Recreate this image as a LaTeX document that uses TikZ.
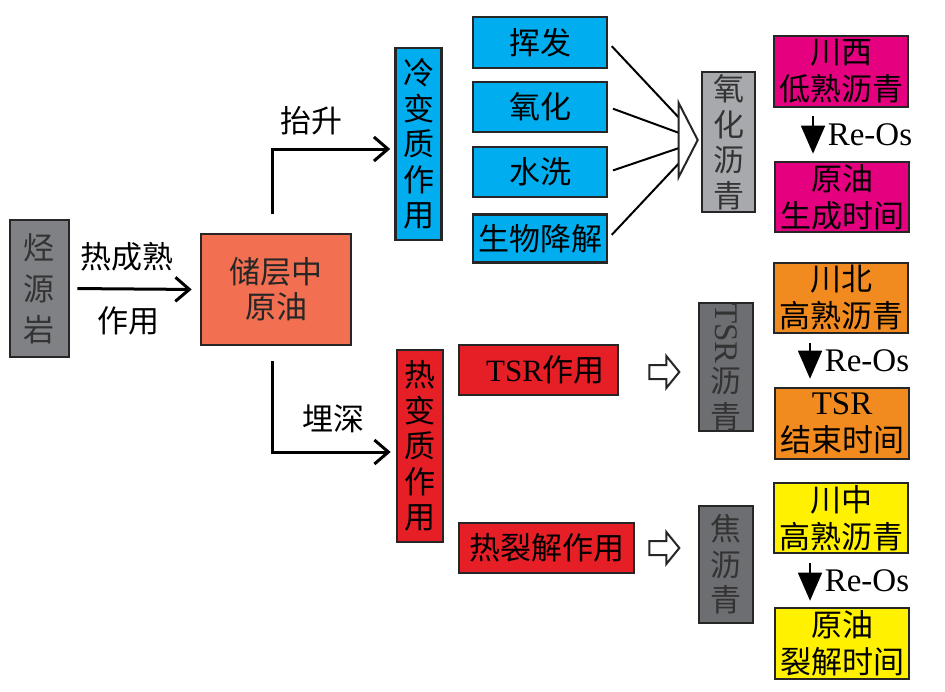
\documentclass[tikz,border=0pt]{standalone}
\usepackage{fontspec}
\setmainfont{Liberation Serif}
\newfontfamily\cjk{Noto Sans CJK SC}
\usetikzlibrary{arrows.meta}
\definecolor{srcgray}{HTML}{808184}
\definecolor{lightgray}{HTML}{A7A9AC}
\definecolor{darkgray}{HTML}{6D6E71}
\definecolor{salmon}{HTML}{F26F52}
\definecolor{cyanbox}{HTML}{00AEEF}
\definecolor{redbox}{HTML}{E61E26}
\definecolor{magbox}{HTML}{E4007F}
\definecolor{orgbox}{HTML}{F18A1F}
\definecolor{yelbox}{HTML}{FFF100}
\tikzset{
 box/.style={draw=black!85,line width=1.3pt,inner sep=0pt,align=center,
  font=\cjk\fontsize{15.5}{18.5}\selectfont},
 vbox/.style={box,font=\cjk\fontsize{15.5}{17.75}\selectfont},
 lbl/.style={font=\cjk\fontsize{15.5}{18}\selectfont,inner sep=0pt},
 relbl/.style={right=7pt,midway,font=\rmfamily\fontsize{16.5}{18}\selectfont,inner sep=0pt},
 arr/.style={line width=1.5pt,-{Straight Barb[length=7pt,width=12pt,line width=1.5pt]}},
 dwn/.style={line width=0.8pt,-{Triangle[length=14pt,width=12pt]}},
 hollow/.style={draw=black!85,line width=1pt,fill=white,line join=miter}
}
\begin{document}
\begin{tikzpicture}[x=0.5pt,y=-0.5pt]
\useasboundingbox (0,0) rectangle (945,691);
% left part
\node[vbox,fill=srcgray,text=black!80,font=\cjk\fontsize{15.5}{20.5}\selectfont,minimum width=29.5pt,minimum height=68.5pt] (src) at (39.5,288.5) {烃\\源\\岩};
\node[box,fill=salmon,text=black!85,font=\cjk\fontsize{15.5}{17.5}\selectfont,minimum width=75pt,minimum height=55.5pt] (oil) at (276,289.5) {储层中\\原油};
\node[vbox,fill=cyanbox,minimum width=23pt,minimum height=96pt] (cold) at (418.5,144) {冷\\变\\质\\作\\用};
\node[vbox,fill=redbox,minimum width=23pt,minimum height=96pt] (hot) at (420,446) {热\\变\\质\\作\\用};
\draw[arr,shorten <=3.5pt,shorten >=4pt] (src.east) -- (oil.west)
 node[lbl,above=8pt,pos=0.44] (mat) {热成熟} node[lbl,below=8pt,pos=0.45] (mat2) {作用};
\draw[arr,shorten <=9.5pt,shorten >=2pt] ([xshift=-2pt]oil.north) |- ([yshift=-2.5pt]cold.west)
 node[lbl,above=6pt,pos=0.66] (up) {抬升};
\draw[arr,shorten <=7.5pt,shorten >=2.5pt] ([xshift=-2pt]oil.south) |- ([yshift=-3pt]hot.west)
 node[lbl,above=9pt,pos=0.75] (down) {埋深};
% cold branch
\node[box,fill=cyanbox,minimum width=67pt,minimum height=25.5pt] (vol) at (540,42.5) {挥发};
\node[box,fill=cyanbox,minimum width=67pt,minimum height=25pt] (oxi) at (540,107) {氧化};
\node[box,fill=cyanbox,minimum width=67pt,minimum height=25pt] (wash) at (540,172) {水洗};
\node[box,fill=cyanbox,minimum width=67pt,minimum height=24pt] (bio) at (540,238.5) {生物降解};
\node[vbox,fill=lightgray,text=black!80,minimum width=26.5pt,minimum height=70pt] (oxbit) at (728.5,142) {氧\\化\\沥\\青};
\foreach \n/\y in {vol/121,oxi/134,wash/147,bio/160}
 \coordinate (j\n) at (682,\y);
\foreach \n in {vol,oxi,wash,bio}
 \draw[line width=1pt,shorten <=2.5pt] (\n.east) -- (j\n);
\draw[hollow] ([xshift=-1.5pt,yshift=1pt]oxbit.west) -- ++(-19,-37) -- ++(0,74) -- cycle;
\node[box,fill=magbox,minimum width=67pt,minimum height=35.5pt] (cx) at (841,71.5) {川西\\低熟沥青};
\node[box,fill=magbox,minimum width=67pt,minimum height=35pt] (cxt) at (842,197) {原油\\生成时间};
\draw[dwn,shorten <=4pt,shorten >=3.5pt] ([xshift=-14pt]cx.south) -- ([xshift=-14.5pt]cxt.north)
 node[relbl] (re1) {Re-Os};
% hot branch
\node[box,fill=redbox,minimum width=79.5pt,minimum height=25pt] (tsr) at (538.5,370) {\hspace{7pt}{\rmfamily TSR}作用};
\node[box,fill=redbox,minimum width=87.5pt,minimum height=25pt] (crack) at (546.5,548) {热裂解作用};
\node[vbox,fill=darkgray,text=black!80,minimum width=27pt,minimum height=64pt] (tsrbit) at (726,367) {\rotatebox{-90}{\rmfamily\fontsize{16.5}{18}\selectfont TSR}\\[1pt]沥\\青};
\node[vbox,fill=darkgray,text=black!80,minimum width=27pt,minimum height=58.5pt] (coke) at (726,564.5) {焦\\沥\\青};
\draw[hollow] ([xshift=15pt,yshift=-1pt]tsr.east) ++(0,-7) -- ++(17,0) -- ++(0,-9) -- ++(13,16)
 -- ++(-13,16) -- ++(0,-9) -- ++(-17,0) -- cycle;
\draw[hollow] ([xshift=7pt]crack.east) ++(0,-7) -- ++(17,0) -- ++(0,-9) -- ++(13,16)
 -- ++(-13,16) -- ++(0,-9) -- ++(-17,0) -- cycle;
\node[box,fill=orgbox,minimum width=67pt,minimum height=35pt] (cb) at (841,298) {川北\\高熟沥青};
\node[box,fill=orgbox,minimum width=67pt,minimum height=35.5pt] (cbt) at (842,423.5) {{\rmfamily\fontsize{16.5}{18}\selectfont TSR}\\结束时间};
\draw[dwn,shorten <=4.5pt,shorten >=4pt] ([xshift=-15.5pt]cb.south) -- ([xshift=-16pt]cbt.north)
 node[relbl] (re2) {Re-Os};
\node[box,fill=yelbox,minimum width=67pt,minimum height=35pt] (cz) at (841,518) {川中\\高熟沥青};
\node[box,fill=yelbox,minimum width=67pt,minimum height=35.5pt] (czt) at (842,643.5) {原油\\裂解时间};
\draw[dwn,shorten <=4.5pt,shorten >=3pt] ([xshift=-15.5pt]cz.south) -- ([xshift=-16pt]czt.north)
 node[relbl] (re3) {Re-Os};
\end{tikzpicture}
\end{document}
